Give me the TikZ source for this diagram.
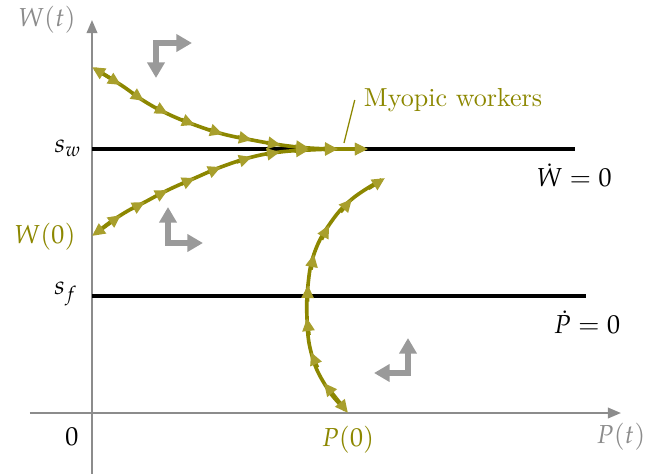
\documentclass[tikz,border=0pt]{standalone}
\usepackage{mathpazo}
\usetikzlibrary{arrows.meta,calc}
\definecolor{olv}{HTML}{8C8700}
\definecolor{olvtip}{HTML}{A89F2C}
\definecolor{axgray}{HTML}{8C8C8C}
\definecolor{vecgray}{HTML}{9A9A9A}

\tikzset{
  axis/.style={axgray,line width=0.8pt,-{Triangle[length=5pt,width=4pt]}},
  nullcline/.style={black,line width=1.5pt},
  vec/.style={vecgray,line width=2.2pt,line join=miter,
    >={Triangle[length=6pt,width=6.5pt]},<->},
  flowline/.style={olv,line width=1.4pt,shorten <=1.5pt,shorten >=1.5pt},
  flowtip/.style={olv,line width=1.4pt,-{Triangle[length=5pt,width=4.5pt,color=olvtip]}},
}

\begin{document}
\begin{tikzpicture}[x=0.0135cm,y=-0.0135cm]
  \useasboundingbox (0,0) rectangle (646,474);

  % axes
  \coordinate (xbeg) at (30,413);
  \coordinate (xend) at (621,413);
  \coordinate (ybeg) at (92,474);
  \coordinate (yend) at (92,20);
  \draw[axis] (xbeg) -- (xend);
  \draw[axis] (ybeg) -- (yend);
  \node[axgray] (wt) at (47,20) {$W(t)$};
  \node[axgray] (pt) at (621,437) {$P(t)$};
  \node (zero) at (72,437) {$0$};

  % nullclines
  \coordinate (sw) at (92,149);
  \coordinate (swend) at (575,149);
  \coordinate (sf) at (92,296);
  \coordinate (sfend) at (586,296);
  \draw[nullcline] (sw) -- (swend);
  \draw[nullcline] (sf) -- (sfend);
  \node (swlbl) at (68,148) {$s_w$};
  \node (sflbl) at (66,294) {$s_f$};
  \node (wdot) at (574,175) {$\dot W = 0$};
  \node (pdot) at (587,322) {$\dot P = 0$};

  % direction of motion
  \draw[vec] (156,78) -- (156,43) -- (192,43);
  \draw[vec] (168,207) -- (168,243) -- (203,243);
  \draw[vec] (408,338) -- (408,373) -- (374,373);

  % trajectories
  \foreach \n/\x/\y in {0/92/67,1/121/85,2/144/101,3/168/114,4/195/125,5/223/134,
      6/252/140,7/281/145,8/309/148,9/338/149,10/368/149}
    \coordinate (u\n) at (\x,\y);
  \foreach \n/\x/\y in {0/92/236,1/121/215,2/145/202,3/168/190,4/195/178,5/221/167,
      6/252/157,7/280/152,8/309/150,9/338/149,10/368/149}
    \coordinate (l\n) at (\x,\y);
  \foreach \n/\x/\y in {0/348/413,1/324/383,2/311/352,3/307/318,4/308/285,5/314/254,
      6/329/225,7/352/199,8/385/178}
    \coordinate (a\n) at (\x,\y);

  \draw[flowline] plot[smooth,tension=0.7] coordinates
    {(u0) (u1) (u2) (u3) (u4) (u5) (u6) (u7) (u8) (u9) (u10)};
  \draw[flowline] plot[smooth,tension=0.7] coordinates
    {(l0) (l1) (l2) (l3) (l4) (l5) (l6) (l7) (l8) (l9) (l10)};
  \draw[flowline] plot[smooth,tension=0.7] coordinates
    {(a0) (a1) (a2) (a3) (a4) (a5) (a6) (a7) (a8)};

  \foreach \i [count=\j] in {0,...,9} {
    \draw[flowtip] ($(u\i)!0.5!(u\j)$) -- (u\j);
    \draw[flowtip] ($(l\i)!0.5!(l\j)$) -- (l\j);
  }
  \foreach \i [count=\j] in {0,...,7}
    \draw[flowtip] ($(a\i)!0.5!(a\j)$) -- (a\j);
  \draw[flowtip] ($(u1)!0.5!(u0)$) -- (u0);
  \draw[flowtip] ($(l1)!0.5!(l0)$) -- (l0);
  \draw[flowtip] ($(a1)!0.5!(a0)$) -- (a0);

  \node[olv] (w0) at (45,237) {$W(0)$};
  \node[olv] (p0) at (348,440) {$P(0)$};

  \coordinate (myo) at (344,143);
  \node[olv] (myolbl) at (453,100) {Myopic workers};
  \draw[olv,line width=0.5pt] (myo) -- (myolbl.west);

\end{tikzpicture}
\end{document}
